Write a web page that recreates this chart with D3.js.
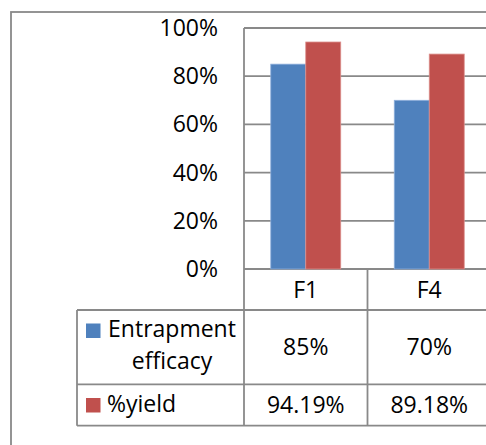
<html>
<head>
<meta charset="UTF-8">
<style>
  body { margin: 0; background: #fff; }
  svg text { font-family: "Open Sans", sans-serif; font-size: 23px; fill: #000; }
</style>
</head>
<body>
<svg id="chart" width="486" height="445"></svg>
<script src="https://d3js.org/d3.v7.min.js"></script>
<script>
// data
const categories = ["F1", "F4"];
const seriesNames = ["Entrapment efficacy", "%yield"];
const entrapment = [0.85, 0.70];
const yieldPct = [0.9419, 0.8918];
const tableLabels = [["85%", "70%"], ["94.19%", "89.18%"]];
const yTicks = [0, 0.2, 0.4, 0.6, 0.8, 1.0];
const colors = ["#4f81bd", "#c0504d"];

const svg = d3.select("#chart");
const grid = "#898989";

// outer chart frame
svg.append("rect")
  .attr("x", 11).attr("y", 12)
  .attr("width", 520).attr("height", 480)
  .attr("fill", "none").attr("stroke", grid).attr("stroke-width", 1.8);

const plotLeft = 244, plotRight = 491, plotTop = 28, plotBottom = 269;

let x = d3.scaleBand().domain(categories).range([plotLeft, plotRight]);
let xs = d3.scaleBand().domain([0, 1]).range([0, x.bandwidth()]).paddingOuter(0.765).paddingInner(0);
let y = d3.scaleLinear().domain([0, 1]).range([plotBottom, plotTop]);

// gridlines
svg.append("g").selectAll("line")
  .data(yTicks)
  .enter().append("line")
  .attr("x1", plotLeft).attr("x2", plotRight)
  .attr("y1", d => y(d)).attr("y2", d => y(d))
  .attr("stroke", grid).attr("stroke-width", 1.8);

// y tick labels
svg.append("g").selectAll("text")
  .data(yTicks)
  .enter().append("text")
  .attr("x", 218).attr("y", d => y(d) + 8)
  .attr("text-anchor", "end")
  .text(d => d3.format(".0%")(d));

// bars
const series = [entrapment, yieldPct];
series.forEach((vals, s) => {
  svg.append("g").selectAll("rect")
    .data(vals)
    .enter().append("rect")
    .attr("x", (d, i) => x(categories[i]) + xs(s))
    .attr("width", xs.bandwidth())
    .attr("y", d => y(d))
    .attr("height", d => y(0) - y(d))
    .attr("fill", colors[s])
    .attr("stroke", s == 0 ? "#8fb0dc" : "#dc8f8c")
    .attr("stroke-width", 0.8);
});

// data table
const rowY = [plotBottom, 310, 384.3, 425.7];
const legLeft = 77;
const tbl = svg.append("g").attr("stroke", grid).attr("stroke-width", 1.8);
rowY.slice(1).forEach(yy => {
  tbl.append("line").attr("x1", legLeft).attr("x2", plotRight).attr("y1", yy).attr("y2", yy);
});
tbl.append("line").attr("x1", legLeft).attr("x2", legLeft).attr("y1", rowY[1]).attr("y2", rowY[3]);
// y axis + category dividers
[plotLeft, x("F4"), plotRight].forEach(xx => {
  tbl.append("line").attr("x1", xx).attr("x2", xx)
    .attr("y1", xx == plotLeft ? plotTop : plotBottom).attr("y2", rowY[3]);
});

// header
svg.append("g").selectAll("text")
  .data(categories)
  .enter().append("text")
  .attr("x", d => x(d) + x.bandwidth() / 2)
  .attr("y", (rowY[0] + rowY[1]) / 2 + 8)
  .attr("text-anchor", "middle")
  .text(d => d);

// values
tableLabels.forEach((row, r) => {
  svg.append("g").selectAll("text")
    .data(row)
    .enter().append("text")
    .attr("x", (d, i) => x(categories[i]) + x.bandwidth() / 2)
    .attr("y", (rowY[r + 1] + rowY[r + 2]) / 2 + 8)
    .attr("text-anchor", "middle")
    .text(d => d);
});

// legend keys
[0, 1].forEach(s => {
  let cy = s == 0 ? 330.5 : 405;
  svg.append("rect")
    .attr("x", 86).attr("y", cy - 7)
    .attr("width", 14.5).attr("height", 14.5)
    .attr("fill", colors[s]);
});
svg.append("text").attr("x", 172).attr("y", 337.3).attr("text-anchor", "middle").text("Entrapment");
svg.append("text").attr("x", 172).attr("y", 369.3).attr("text-anchor", "middle").text("efficacy");
svg.append("text").attr("x", 107).attr("y", 412).text(seriesNames[1]);
</script>
</body>
</html>
